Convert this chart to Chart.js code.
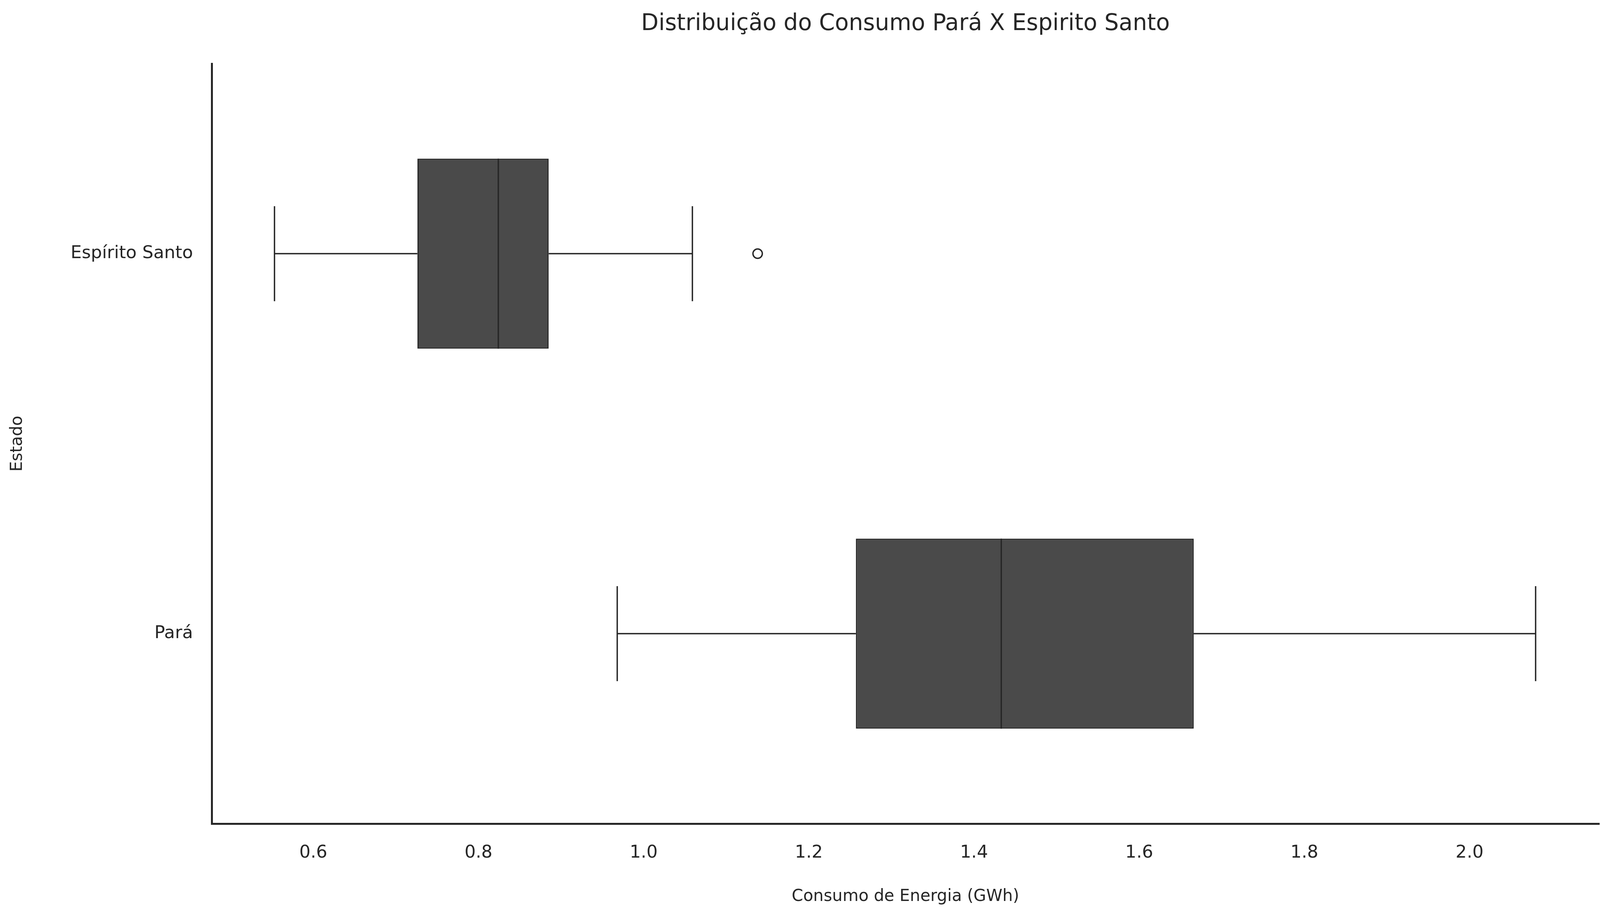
<!DOCTYPE html>
<html><head><meta charset="utf-8">
<script src="https://cdn.jsdelivr.net/npm/chart.js@4/dist/chart.umd.min.js"></script>
<style>html,body{margin:0;background:#fff}#wrap{width:4123px;height:2325px}</style>
</head><body><div id="wrap"><canvas id="c"></canvas></div>
<script>
const estados = ['Espírito Santo', 'Pará'];
const mins = [0.553, 0.968];
const q1s = [0.726, 1.257];
const medians = [0.824, 1.433];
const q3s = [0.885, 1.666];
const maxs = [1.059, 2.080];
const outliers = [[1.138], []];
const xTicks = [0.6, 0.8, 1.0, 1.2, 1.4, 1.6, 1.8, 2.0];

const ink = '#262626';
const boxFill = '#4a4a4a';

// whiskers, caps, medians, outliers and title, drawn through the scales
const boxExtras = {
  id: 'boxExtras',
  afterDatasetsDraw(chart) {
    const c = chart.ctx, x = chart.scales.x, y = chart.scales.y;
    const band = Math.abs(y.getPixelForValue(1) - y.getPixelForValue(0));
    const half = band * 0.25, cap = band * 0.125;
    c.save();
    c.strokeStyle = ink; c.lineWidth = 3.5;
    estados.forEach((e, i) => {
      const cy = y.getPixelForValue(i);
      const seg = (x1, y1, x2, y2) => { c.beginPath(); c.moveTo(x1, y1); c.lineTo(x2, y2); c.stroke(); };
      seg(x.getPixelForValue(mins[i]), cy, x.getPixelForValue(q1s[i]), cy);
      seg(x.getPixelForValue(q3s[i]), cy, x.getPixelForValue(maxs[i]), cy);
      seg(x.getPixelForValue(mins[i]), cy - cap, x.getPixelForValue(mins[i]), cy + cap);
      seg(x.getPixelForValue(maxs[i]), cy - cap, x.getPixelForValue(maxs[i]), cy + cap);
      seg(x.getPixelForValue(medians[i]), cy - half, x.getPixelForValue(medians[i]), cy + half);
      outliers[i].forEach(v => {
        c.beginPath(); c.arc(x.getPixelForValue(v), cy, 12, 0, Math.PI * 2); c.stroke();
      });
    });
    const a = chart.chartArea;
    c.fillStyle = ink; c.font = '58px "DejaVu Sans"'; c.textAlign = 'center'; c.textBaseline = 'middle';
    c.fillText('Distribuição do Consumo Pará X Espirito Santo', (a.left + a.right) / 2, 62);
    c.restore();
  }
};

new Chart(document.getElementById('c'), {
  type: 'bar',
  data: {
    labels: estados,
    datasets: [{
      data: estados.map((e, i) => [q1s[i], q3s[i]]),
      backgroundColor: boxFill,
      borderColor: ink,
      borderWidth: 3.5,
      borderSkipped: false,
      categoryPercentage: 1,
      barPercentage: 0.5
    }]
  },
  options: {
    indexAxis: 'y',
    responsive: true,
    maintainAspectRatio: false,
    animation: false,
    devicePixelRatio: 1,
    layout: { padding: { top: 163, right: 29, left: 0, bottom: 0 } },
    plugins: { legend: { display: false }, tooltip: { enabled: false } },
    scales: {
      x: {
        type: 'linear', min: 0.477, max: 2.157,
        afterBuildTicks: s => { s.ticks = xTicks.map(v => ({ value: v })); },
        afterFit: s => { s.height = 216; },
        grid: { display: false },
        border: { display: true, color: ink, width: 5 },
        ticks: { color: ink, font: { size: 45, family: 'DejaVu Sans' }, padding: 40, callback: v => v.toFixed(1) },
        title: { display: true, text: 'Consumo de Energia (GWh)', color: ink, font: { size: 42, family: 'DejaVu Sans' }, padding: { top: 22 } }
      },
      y: {
        afterFit: s => { s.width = 542; },
        grid: { display: false },
        border: { display: true, color: ink, width: 5 },
        ticks: { color: ink, font: { size: 45, family: 'DejaVu Sans' }, padding: 40 },
        title: { display: true, text: 'Estado', color: ink, font: { size: 42, family: 'DejaVu Sans' }, padding: { bottom: 0, top: 20 } }
      }
    }
  },
  plugins: [boxExtras]
});
</script>
</body></html>
